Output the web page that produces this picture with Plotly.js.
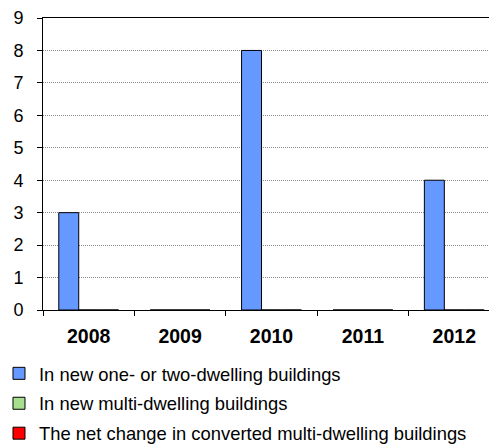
<!DOCTYPE html>
<html>
<head>
<meta charset="utf-8">
<script src="https://cdn.plot.ly/plotly-3.0.1.min.js"></script>
<style>
html,body{margin:0;padding:0;overflow:hidden;background:#fff;width:489px;height:444px;}
#chart{width:530px;height:480px;margin-left:-20px;}
</style>
</head>
<body>
<div id="chart"></div>
<script>
const years = ["2008", "2009", "2010", "2011", "2012"];
const oneTwoDwelling = [3, 0, 8, 0, 4];
const multiDwelling = [0, 0, 0, 0, 0];
const convertedNet = [0, 0, 0, 0, 0];
const seriesNames = [
  "In new one- or two-dwelling buildings",
  "In new multi-dwelling buildings",
  "The net change in converted multi-dwelling buildings"
];
const yTicks = [0, 1, 2, 3, 4, 5, 6, 7, 8, 9];

const colors = ["#6699FF", "#A6E08F", "#FF0000"];
const series = [oneTwoDwelling, multiDwelling, convertedNet];

const traces = series.map((vals, i) => ({
  type: "bar",
  x: years,
  y: vals,
  name: seriesNames[i],
  legendgroup: "g" + i,
  marker: {color: colors[i], line: {color: "#000000", width: 1}},
  hoverinfo: "x+y+name"
}));

const layout = {
  width: 530,
  height: 480,
  margin: {l: 63, r: 10, t: 18, b: 170, pad: 0},
  paper_bgcolor: "#ffffff",
  plot_bgcolor: "#ffffff",
  barmode: "group",
  bargap: 0.345,
  bargroupgap: 0,
  font: {family: "Liberation Sans, Arial, sans-serif", color: "#000000"},
  xaxis: {
    type: "category",
    tickson: "boundaries",
    ticks: "outside",
    ticklen: 5,
    tickcolor: "#000000",
    showline: true,
    linecolor: "#000000",
    linewidth: 1,
    mirror: true,
    showgrid: false,
    tickangle: 0,
    automargin: false,
    tickfont: {size: 19.5, family: "Liberation Sans, Arial, sans-serif", weight: "bold"},
    ticklabelstandoff: 9,
    fixedrange: true
  },
  yaxis: {
    range: [0, 9],
    tickvals: yTicks,
    ticks: "outside",
    ticklen: 5,
    tickcolor: "#000000",
    showline: true,
    linecolor: "#000000",
    linewidth: 1,
    mirror: true,
    showgrid: true,
    gridcolor: "#8c8c8c",
    griddash: "1px,1px",
    gridwidth: 1,
    zeroline: false,
    automargin: false,
    tickfont: {size: 18},
    ticklabelstandoff: 10,
    fixedrange: true
  },
  showlegend: true,
  legend: {
    orientation: "v",
    xref: "paper",
    yref: "paper",
    x: -0.0963,
    xanchor: "left",
    y: -0.1537,
    yanchor: "top",
    traceorder: "grouped",
    tracegroupgap: 3,
    font: {size: 18.4},
    bgcolor: "rgba(0,0,0,0)",
    borderwidth: 0
  }
};

Plotly.newPlot("chart", traces, layout, {displayModeBar: false, staticPlot: true});
</script>
</body>
</html>
